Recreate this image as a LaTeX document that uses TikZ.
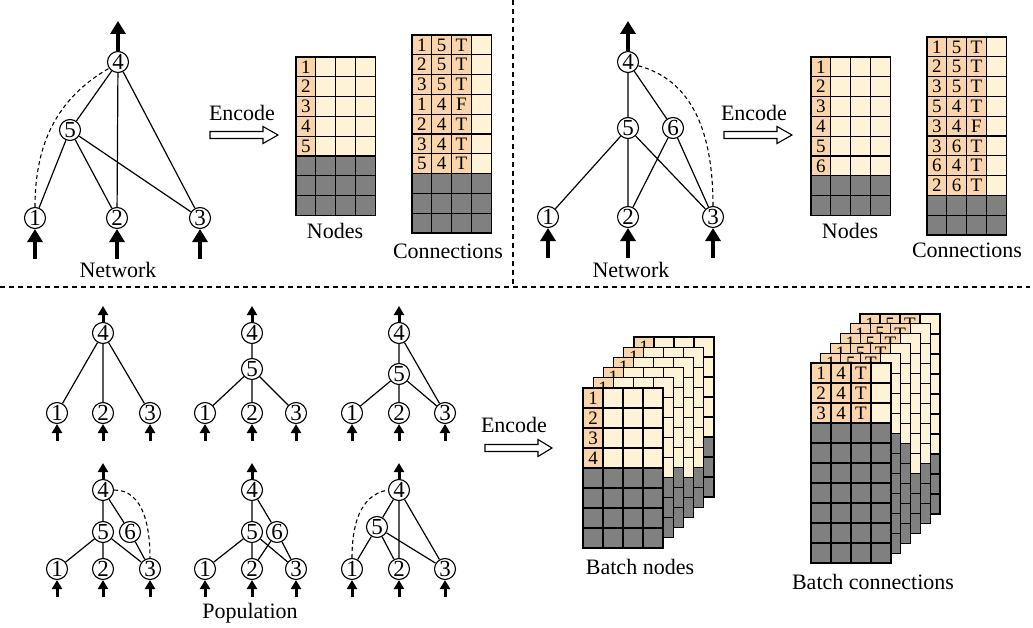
\documentclass[tikz,border=0pt]{standalone}
\usepackage{fontspec}
\setmainfont{Liberation Serif}
\usetikzlibrary{arrows.meta}
\definecolor{peach}{RGB}{250,212,170}
\definecolor{cream}{RGB}{255,243,215}
\definecolor{cellgray}{RGB}{128,128,128}

\tikzset{
  cell/.style={draw=black, line width=1.2pt},
  celltxt/.style={inner sep=0pt, font=\fontsize{19}{19}\selectfont},
  nd/.style={circle, draw, line width=1.1pt, inner sep=0pt, minimum size=21pt, fill=white, font=\fontsize{23}{23}\selectfont},
  edge/.style={line width=1.2pt},
  dashedge/.style={line width=1.1pt, dash pattern=on 4pt off 3pt},
  bigarrow/.style={line width=4pt, -{Triangle[width=15pt,length=13pt]}},
  smallarrow/.style={line width=3pt, -{Triangle[width=10pt,length=9pt]}},
  lbl/.style={inner sep=0pt, font=\fontsize{22}{22}\selectfont},
  sep/.style={line width=1.2pt, dash pattern=on 5pt off 4pt},
  encbox/.style={line width=1.1pt, fill=white, line join=miter}
}

% #1 x, #2 y, #3 cell size, #4 rows, #5 data rows, #6 peach columns
\newcommand{\gridtab}[6]{%
  \foreach \r in {1,...,#4}{%
    \foreach \c in {1,...,4}{%
      \ifnum\r>#5\relax \def\cc{cellgray}\else \ifnum\c>#6\relax \def\cc{cream}\else \def\cc{peach}\fi\fi
      \filldraw[cell, fill=\cc] ({#1+(\c-1)*#3},{#2+(\r-1)*#3}) rectangle ++(#3,#3);
    }%
  }%
}
% #1 prefix, #2 x, #3 y, #4 cell, #5 list
\newcommand{\nodetext}[5]{%
  \foreach \t [count=\i] in {#5}{%
    \node[celltxt] (#1-\i) at ({#2+0.5*#4},{#3+(\i-0.5)*#4}) {\t};
  }%
}
\newcommand{\conntext}[5]{%
  \foreach \a/\b/\z [count=\i] in {#5}{%
    \node[celltxt] (#1-a\i) at ({#2+0.5*#4},{#3+(\i-0.5)*#4}) {\a};
    \node[celltxt] (#1-b\i) at ({#2+1.5*#4},{#3+(\i-0.5)*#4}) {\b};
    \node[celltxt] (#1-c\i) at ({#2+2.5*#4},{#3+(\i-0.5)*#4}) {\z};
  }%
}
% #1 x start, #2 head base x, #3 tip x, #4 y
\newcommand{\encarrow}[4]{%
  \draw[encbox] (#1,#4-3.5) -- (#2,#4-3.5) -- (#2,#4-8.5) -- (#3,#4) -- (#2,#4+8.5) -- (#2,#4+3.5) -- (#1,#4+3.5) -- cycle;
}

\begin{document}
\begin{tikzpicture}[x=1pt,y=-1pt]
\useasboundingbox (0,0) rectangle (1033,628);

% separators
\draw[sep] (0,287) -- (1030,287);
\draw[sep] (513,0) -- (513,287);

%%%%% Top-left network
\node[nd] (a4) at (118,62) {4};
\node[nd] (a5) at (70,130) {5};
\node[nd] (a1) at (35,218) {1};
\node[nd] (a2) at (117,218) {2};
\node[nd] (a3) at (200,218) {3};
\draw[edge] (a4)--(a5) (a4)--(a2) (a4)--(a3) (a5)--(a1) (a5)--(a2) (a5)--(a3);
\draw[dashedge] (a1.north) to[out=90,in=210] (a4.215);
\coordinate (ao) at (118,21);
\draw[bigarrow] (a4.north) -- (ao);
\coordinate (ai1) at (35,259); \coordinate (ai2) at (117,259); \coordinate (ai3) at (200,259);
\draw[bigarrow] (ai1) -- (a1.south);
\draw[bigarrow] (ai2) -- (a2.south);
\draw[bigarrow] (ai3) -- (a3.south);
\node[lbl] (netA) at (118,270) {Network};

\node[lbl] (encA) at (242,113) {Encode};
\encarrow{210}{263}{278}{135}

\gridtab{296}{57}{19.8}{8}{5}{1}
\nodetext{tln}{296}{57}{19.8}{1,2,3,4,5}
\node[lbl] (nodesA) at (335,231) {Nodes};

\gridtab{412}{35}{19.8}{10}{7}{3}
\conntext{tlc}{412}{35}{19.8}{1/5/T,2/5/T,3/5/T,1/4/F,2/4/T,3/4/T,5/4/T}
\node[lbl] (connA) at (448,251) {Connections};

%%%%% Top-right network
\node[nd] (b4) at (628,62) {4};
\node[nd] (b5) at (628,128) {5};
\node[nd] (b6) at (673,128) {6};
\node[nd] (b1) at (548,217) {1};
\node[nd] (b2) at (628,217) {2};
\node[nd] (b3) at (713,217) {3};
\draw[edge] (b4)--(b5) (b4)--(b6) (b5)--(b1) (b5)--(b2) (b5)--(b3) (b6)--(b2) (b6)--(b3);
\draw[dashedge] (b4.-20) to[out=-15,in=90] (b3.north);
\coordinate (bo) at (628,21);
\draw[bigarrow] (b4.north) -- (bo);
\coordinate (bi1) at (548,258); \coordinate (bi2) at (628,258); \coordinate (bi3) at (713,258);
\draw[bigarrow] (bi1) -- (b1.south);
\draw[bigarrow] (bi2) -- (b2.south);
\draw[bigarrow] (bi3) -- (b3.south);
\node[lbl] (netB) at (631,270) {Network};

\node[lbl] (encB) at (754,113) {Encode};
\encarrow{724}{777}{792}{135}

\gridtab{811}{57}{19.8}{8}{6}{1}
\nodetext{trn}{811}{57}{19.8}{1,2,3,4,5,6}
\node[lbl] (nodesB) at (850,231) {Nodes};

\gridtab{927}{37}{19.8}{10}{8}{3}
\conntext{trc}{927}{37}{19.8}{1/5/T,2/5/T,3/5/T,5/4/T,3/4/F,3/6/T,6/4/T,2/6/T}
\node[lbl] (connB) at (967,250) {Connections};

%%%%% Population
% net A
\node[nd] (c4) at (103,333) {4};
\node[nd] (c1) at (57,413) {1};
\node[nd] (c2) at (103,413) {2};
\node[nd] (c3) at (150,413) {3};
\draw[edge] (c4)--(c1) (c4)--(c2) (c4)--(c3);
% net B
\node[nd] (d4) at (252,333) {4};
\node[nd] (d5) at (252,369) {5};
\node[nd] (d1) at (205,413) {1};
\node[nd] (d2) at (252,413) {2};
\node[nd] (d3) at (296,413) {3};
\draw[edge] (d4)--(d5) (d5)--(d1) (d5)--(d2) (d5)--(d3);
% net C
\node[nd] (e4) at (399,333) {4};
\node[nd] (e5) at (399,374) {5};
\node[nd] (e1) at (352,413) {1};
\node[nd] (e2) at (399,413) {2};
\node[nd] (e3) at (445,413) {3};
\draw[edge] (e4)--(e5) (e4)--(e3) (e5)--(e1) (e5)--(e2) (e5)--(e3);
% net D
\node[nd] (f4) at (103,490) {4};
\node[nd] (f5) at (103,532) {5};
\node[nd] (f6) at (130,532) {6};
\node[nd] (f1) at (57,569) {1};
\node[nd] (f2) at (103,569) {2};
\node[nd] (f3) at (150,569) {3};
\draw[edge] (f4)--(f5) (f4)--(f6) (f5)--(f1) (f5)--(f2) (f5)--(f3) (f6)--(f3);
\draw[dashedge] (f4.east) to[out=0,in=90] (f3.north);
% net E
\node[nd] (g4) at (252,490) {4};
\node[nd] (g5) at (252,532) {5};
\node[nd] (g6) at (277,532) {6};
\node[nd] (g1) at (205,569) {1};
\node[nd] (g2) at (252,569) {2};
\node[nd] (g3) at (296,569) {3};
\draw[edge] (g4)--(g5) (g4)--(g6) (g5)--(g1) (g5)--(g2) (g5)--(g3) (g6)--(g2) (g6)--(g3);
% net F
\node[nd] (h4) at (399,490) {4};
\node[nd] (h5) at (377,527) {5};
\node[nd] (h1) at (352,569) {1};
\node[nd] (h2) at (399,569) {2};
\node[nd] (h3) at (445,569) {3};
\draw[edge] (h4)--(h5) (h4)--(h2) (h4)--(h3) (h5)--(h1) (h5)--(h2) (h5)--(h3);
\draw[dashedge] (h1.north) to[out=90,in=190] (h4.west);

% small arrows
\foreach \p/\x in {c/103,d/252,e/399}{
  \coordinate (\p o) at (\x,306);
  \draw[smallarrow] (\p4.north) -- (\p o);
}
\foreach \p/\x in {f/103,g/252,h/399}{
  \coordinate (\p o) at (\x,463);
  \draw[smallarrow] (\p4.north) -- (\p o);
}
\foreach \p/\xa/\xb/\xc in {c/57/103/150,d/205/252/296,e/352/399/445}{
  \coordinate (\p i1) at (\xa,441); \coordinate (\p i2) at (\xb,441); \coordinate (\p i3) at (\xc,441);
  \draw[smallarrow] (\p i1) -- (\p1.south);
  \draw[smallarrow] (\p i2) -- (\p2.south);
  \draw[smallarrow] (\p i3) -- (\p3.south);
}
\foreach \p/\xa/\xb/\xc in {f/57/103/150,g/205/252/296,h/352/399/445}{
  \coordinate (\p i1) at (\xa,597); \coordinate (\p i2) at (\xb,597); \coordinate (\p i3) at (\xc,597);
  \draw[smallarrow] (\p i1) -- (\p1.south);
  \draw[smallarrow] (\p i2) -- (\p2.south);
  \draw[smallarrow] (\p i3) -- (\p3.south);
}
\node[lbl] (pop) at (250,613) {Population};

\node[lbl] (encC) at (514,425) {Encode};
\encarrow{485}{538}{552}{448}

%%%%% Batch nodes
\foreach \k/\dr in {5/5,4/6,3/6,2/5,1/5}{
  \gridtab{583+10.2*\k}{388-10.2*\k}{20}{8}{\dr}{1}
  \node[celltxt] (bn\k) at ({593+10.2*\k},{398-10.2*\k}) {1};
}
\gridtab{583}{388}{20}{8}{4}{1}
\nodetext{bnf}{583}{388}{20}{1,2,3,4}
\node[lbl] (bnl) at (640,567) {Batch nodes};

%%%%% Batch connections
\foreach \k/\dr in {5/7,4/7,3/7,2/5,1/4}{
  \gridtab{811+9.8*\k}{363-9.8*\k}{20}{10}{\dr}{3}
  \conntext{bc\k}{811+9.8*\k}{363-9.8*\k}{20}{1/5/T}
}
\gridtab{811}{363}{20}{10}{3}{3}
\conntext{bcf}{811}{363}{20}{1/4/T,2/4/T,3/4/T}
\node[lbl] (bcl) at (873,582) {Batch connections};

\end{tikzpicture}
\end{document}
